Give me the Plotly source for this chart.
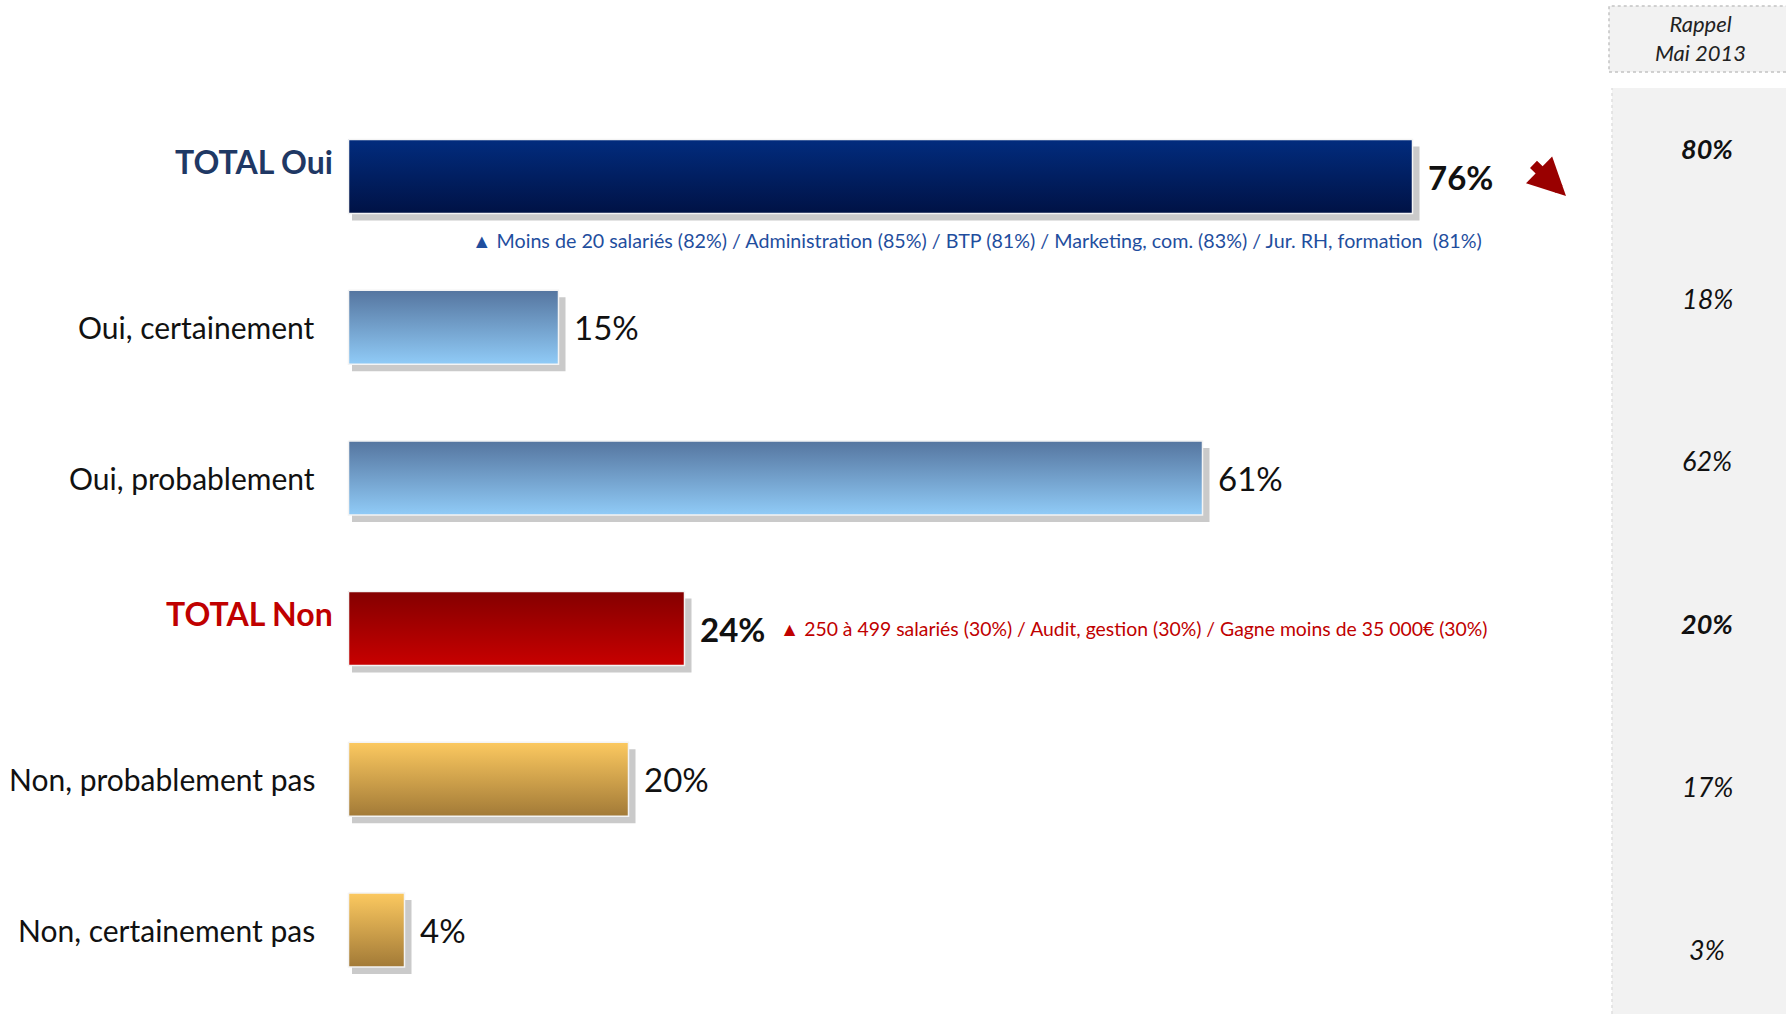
import plotly.graph_objects as go

# ---------------- data ----------------
CATEGORIES = ["TOTAL Oui", "Oui, certainement", "Oui, probablement",
              "TOTAL Non", "Non, probablement pas", "Non, certainement pas"]
VALUES = [76, 15, 61, 24, 20, 4]
RECALL_2013 = [80, 18, 62, 20, 17, 3]
IS_TOTAL = [True, False, False, True, False, False]
RECALL_TITLE = "Rappel<br>Mai 2013"
NOTE_OUI = ("▲ Moins de 20 salariés (82%) / Administration (85%) / BTP (81%) / "
            "Marketing, com. (83%) / Jur. RH, formation  (81%)")
NOTE_NON = ("▲ 250 à 499 salariés (30%) / Audit, gestion (30%) / "
            "Gagne moins de 35 000€ (30%)")

# ---------------- styles ----------------
# (top colour, bottom colour) of each bar
GRAD = [("#022c7e", "#001245"), ("#55759f", "#90cbf7"), ("#55759f", "#90cbf7"),
        ("#840000", "#c80000"), ("#fcc960", "#a27a37"), ("#fcc960", "#a27a37")]
LABEL_COLORS = ["#1f3864", "#111111", "#111111", "#c00000", "#111111", "#111111"]
RECALL_YSHIFT = [28, 29, 17, 5, -7, -19]  # px

W, H = 1786, 1014
X0, PX_PER_PCT = 348.5, 14.0
Y0, ROW_PX = 176.5, 150.7
HALF = 37 / ROW_PX
FONT = "Lato"

x_range = [-X0 / PX_PER_PCT, (W - X0) / PX_PER_PCT]
y_range = [(H - Y0) / ROW_PX, -Y0 / ROW_PX]
dx_sh = 7 / PX_PER_PCT
dy_sh = 7 / ROW_PX

fig = go.Figure()

for i, v in enumerate(VALUES):
    # shadow
    fig.add_trace(go.Scatter(
        x=[dx_sh * 0.5, v + dx_sh, v + dx_sh, dx_sh * 0.5, dx_sh * 0.5],
        y=[i - HALF + dy_sh, i - HALF + dy_sh, i + HALF + dy_sh, i + HALF + dy_sh, i - HALF + dy_sh],
        fill="toself", mode="lines", line=dict(width=0, color="rgba(0,0,0,0)"),
        fillcolor="rgba(150,150,150,0.5)", hoverinfo="skip", showlegend=False))
    # bar
    top, bot = GRAD[i]
    fig.add_trace(go.Scatter(
        x=[0, v, v, 0, 0],
        y=[i - HALF, i - HALF, i + HALF, i + HALF, i - HALF],
        fill="toself", mode="lines", line=dict(width=1.5, color="#f4f4f4"),
        fillgradient=dict(type="vertical", colorscale=[[0, bot], [1, top]]),
        name=CATEGORIES[i], hoverinfo="name", showlegend=False))

ann = []
for i, (c, v) in enumerate(zip(CATEGORIES, VALUES)):
    tot = IS_TOTAL[i]
    ann.append(dict(
        x=(-1.0 if tot else -2.25), y=i, xref="x", yref="y",
        xanchor="right", yanchor="middle", showarrow=False,
        yshift=15 if tot else 0,
        text=f"<b>{c}</b>" if tot else c,
        font=dict(family=FONT, size=32 if tot else 30, color=LABEL_COLORS[i])))
    ann.append(dict(
        x=v, y=i, xref="x", yref="y", xanchor="left", yanchor="middle",
        xshift=13, showarrow=False,
        text=f"<b>{v}%</b>" if tot else f"{v}%",
        font=dict(family=FONT, size=33, color="#111111")))
    r = RECALL_2013[i]
    ann.append(dict(
        x=1707 / W, y=i, xref="paper", yref="y", xanchor="center", yanchor="middle",
        yshift=RECALL_YSHIFT[i], showarrow=False,
        text=f"<b><i>{r}%</i></b>" if tot else f"<i>{r}%</i>",
        font=dict(family=FONT, size=27, color="#111111")))

ann.append(dict(x=8.65, y=0, xref="x", yref="y", xanchor="left", yanchor="middle",
                yshift=-64, showarrow=False, text=NOTE_OUI,
                font=dict(family=FONT, size=19.7, color="#1f4e9e")))
ann.append(dict(x=30.65, y=3, xref="x", yref="y", xanchor="left", yanchor="middle",
                showarrow=False, text=NOTE_NON,
                font=dict(family=FONT, size=19.4, color="#c00000")))
ann.append(dict(x=1700 / W, y=1 - 38 / H, xref="paper", yref="paper",
                xanchor="center", yanchor="middle", showarrow=False,
                text=f"<i>{RECALL_TITLE}</i>",
                font=dict(family=FONT, size=22, color="#222222")))
# trend arrow
ann.append(dict(x=1566 / W, y=1 - 196 / H, xref="paper", yref="paper",
                ax=-34, ay=-33, showarrow=True, arrowhead=2, arrowsize=0.75,
                arrowwidth=10, arrowcolor="#990000", text=""))

shapes = [
    dict(type="rect", xref="paper", yref="paper", x0=1612 / W, x1=1.01, y0=-0.01, y1=1 - 88 / H,
         fillcolor="#f2f2f2", line=dict(width=0), layer="below"),
    dict(type="line", xref="paper", yref="paper", x0=1612 / W, x1=1612 / W, y0=0, y1=1 - 88 / H,
         line=dict(width=1.5, color="#e0e0e0", dash="dot"), layer="below"),
    dict(type="rect", xref="paper", yref="paper", x0=1609 / W, x1=1.01, y0=1 - 72 / H, y1=1 - 6 / H,
         fillcolor="#f2f2f2", line=dict(width=1.5, color="#c4c4c4", dash="dot"), layer="below"),
]

fig.update_layout(
    width=W, height=H, margin=dict(l=0, r=0, t=0, b=0),
    paper_bgcolor="white", plot_bgcolor="rgba(0,0,0,0)",
    xaxis=dict(range=x_range, visible=False, fixedrange=True),
    yaxis=dict(range=y_range, visible=False, fixedrange=True),
    annotations=ann, shapes=shapes, showlegend=False,
)

fig.write_html("out.html", config={"displayModeBar": False},
               post_script="document.body.style.margin='0';document.body.style.overflow='hidden';")
